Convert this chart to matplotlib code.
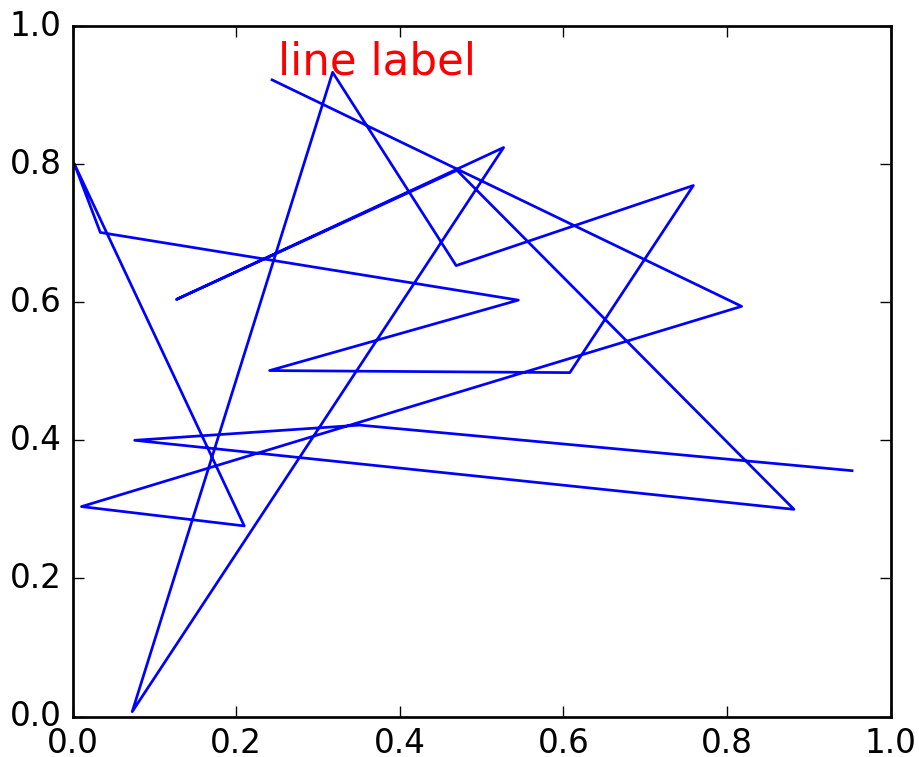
import matplotlib
matplotlib.use("Agg")
import matplotlib.pyplot as plt

# vertices of the line
xs = [0.244, 0.818, 0.011, 0.210, 0.002, 0.034, 0.545, 0.241, 0.608, 0.759,
      0.469, 0.318, 0.073, 0.527, 0.127, 0.470, 0.882, 0.076, 0.351, 0.953]
ys = [0.922, 0.594, 0.304, 0.276, 0.801, 0.701, 0.603, 0.501, 0.498, 0.769,
      0.653, 0.933, 0.007, 0.824, 0.604, 0.791, 0.300, 0.400, 0.422, 0.356]
label_text = "line label"

plt.style.use("classic")
dpi = 196
fig = plt.figure(figsize=(919 / dpi, 757 / dpi), dpi=dpi, facecolor="white")
ax = fig.add_axes([72.5 / 919, 40.5 / 757, 818 / 919, 690.5 / 757])

ax.plot(xs, ys, color="blue", linewidth=1.0)
ax.text(0.251, 0.93, label_text, color="red", fontsize=16)

ax.set_xlim(0, 1)
ax.set_ylim(0, 1)

fig.savefig("out.png", dpi=dpi, facecolor="white")
